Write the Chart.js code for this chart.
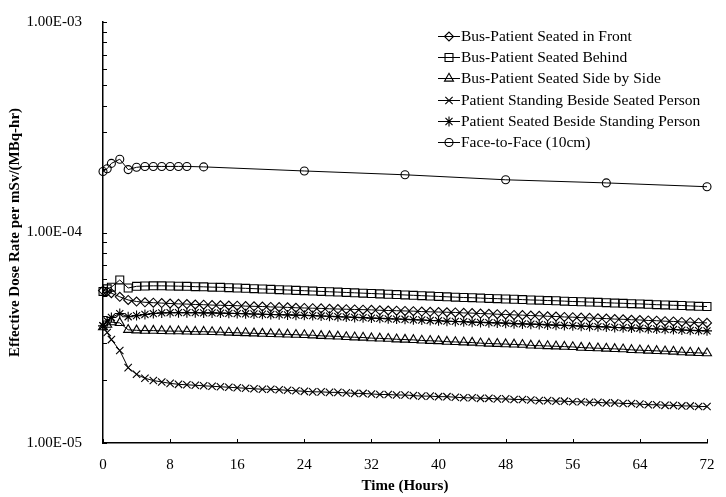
<!DOCTYPE html>
<html>
<head>
<meta charset="utf-8">
<script src="https://cdn.jsdelivr.net/npm/chart.js@4.4.1/dist/chart.umd.min.js"></script>
<style>
html,body{margin:0;padding:0;background:#fff;}
#wrap{position:relative;width:726px;height:497px;}
#legend{position:absolute;left:438px;top:25px;font-family:"Liberation Serif","Times New Roman",serif;font-size:15.5px;color:#000;}
.row{display:flex;align-items:center;height:21.3px;white-space:nowrap;}
.row canvas{display:block;margin-right:1px;}
</style>
</head>
<body>
<div id="wrap"><canvas id="c" width="726" height="497"></canvas><div id="legend"></div></div>
<script>
// ---- data ----
const seriesNames = [
  'Bus-Patient Seated in Front',
  'Bus-Patient Seated Behind',
  'Bus-Patient Seated Side by Side',
  'Patient Standing Beside Seated Person',
  'Patient Seated Beside Standing Person',
  'Face-to-Face (10cm)'
];
const hours = [0,0.5,1,2,3,4,5,6,7,8,
  9,10,11,12,13,14,15,16,
  17,18,19,20,21,22,23,24,
  25,26,27,28,29,30,31,32,
  33,34,35,36,37,38,39,40,
  41,42,43,44,45,46,47,48,
  49,50,51,52,53,54,55,56,
  57,58,59,60,61,62,63,64,
  65,66,67,68,69,70,71,72];
const frontValues = [5.30e-5,5.25e-5,5.15e-5,4.95e-5,4.78e-5,4.70e-5,4.66e-5,4.64e-5,4.62e-5,4.60e-5,
  4.58e-5,4.57e-5,4.55e-5,4.54e-5,4.52e-5,4.51e-5,4.50e-5,4.49e-5,
  4.47e-5,4.46e-5,4.45e-5,4.43e-5,4.42e-5,4.41e-5,4.39e-5,4.38e-5,
  4.37e-5,4.36e-5,4.34e-5,4.33e-5,4.32e-5,4.31e-5,4.30e-5,4.29e-5,
  4.27e-5,4.26e-5,4.25e-5,4.24e-5,4.23e-5,4.21e-5,4.20e-5,4.19e-5,
  4.18e-5,4.17e-5,4.15e-5,4.14e-5,4.12e-5,4.11e-5,4.09e-5,4.08e-5,
  4.06e-5,4.05e-5,4.03e-5,4.02e-5,4.00e-5,3.99e-5,3.97e-5,3.96e-5,
  3.94e-5,3.93e-5,3.91e-5,3.90e-5,3.88e-5,3.87e-5,3.85e-5,3.84e-5,
  3.82e-5,3.81e-5,3.79e-5,3.78e-5,3.76e-5,3.75e-5,3.73e-5,3.72e-5];
const behindValues = [5.25e-5,5.40e-5,5.50e-5,5.95e-5,5.45e-5,5.55e-5,5.57e-5,5.58e-5,5.58e-5,5.57e-5,
  5.56e-5,5.55e-5,5.53e-5,5.52e-5,5.50e-5,5.49e-5,5.47e-5,5.45e-5,
  5.43e-5,5.41e-5,5.39e-5,5.37e-5,5.35e-5,5.33e-5,5.31e-5,5.29e-5,
  5.27e-5,5.25e-5,5.23e-5,5.21e-5,5.19e-5,5.17e-5,5.15e-5,5.13e-5,
  5.11e-5,5.09e-5,5.07e-5,5.05e-5,5.03e-5,5.01e-5,4.99e-5,4.97e-5,
  4.95e-5,4.93e-5,4.91e-5,4.90e-5,4.88e-5,4.86e-5,4.85e-5,4.83e-5,
  4.82e-5,4.80e-5,4.78e-5,4.77e-5,4.75e-5,4.74e-5,4.72e-5,4.70e-5,
  4.69e-5,4.67e-5,4.66e-5,4.64e-5,4.62e-5,4.61e-5,4.59e-5,4.58e-5,
  4.56e-5,4.54e-5,4.53e-5,4.51e-5,4.50e-5,4.48e-5,4.46e-5,4.45e-5];
const sideValues = [3.55e-5,3.65e-5,3.75e-5,3.72e-5,3.45e-5,3.43e-5,3.42e-5,3.42e-5,3.41e-5,3.40e-5,
  3.40e-5,3.39e-5,3.38e-5,3.38e-5,3.37e-5,3.36e-5,3.35e-5,3.34e-5,
  3.33e-5,3.32e-5,3.31e-5,3.30e-5,3.29e-5,3.28e-5,3.27e-5,3.26e-5,
  3.25e-5,3.23e-5,3.22e-5,3.21e-5,3.19e-5,3.18e-5,3.17e-5,3.15e-5,
  3.14e-5,3.13e-5,3.11e-5,3.10e-5,3.09e-5,3.07e-5,3.06e-5,3.05e-5,
  3.03e-5,3.02e-5,3.01e-5,3.00e-5,2.98e-5,2.97e-5,2.96e-5,2.95e-5,
  2.94e-5,2.93e-5,2.91e-5,2.90e-5,2.89e-5,2.88e-5,2.87e-5,2.86e-5,
  2.84e-5,2.83e-5,2.82e-5,2.81e-5,2.80e-5,2.79e-5,2.77e-5,2.76e-5,
  2.75e-5,2.74e-5,2.73e-5,2.72e-5,2.70e-5,2.69e-5,2.68e-5,2.67e-5];
const standingValues = [3.60e-5,3.35e-5,3.10e-5,2.75e-5,2.28e-5,2.12e-5,2.03e-5,1.98e-5,1.95e-5,1.92e-5,
  1.90e-5,1.89e-5,1.88e-5,1.87e-5,1.86e-5,1.85e-5,1.84e-5,1.83e-5,
  1.82e-5,1.81e-5,1.80e-5,1.80e-5,1.79e-5,1.78e-5,1.77e-5,1.76e-5,
  1.75e-5,1.75e-5,1.74e-5,1.74e-5,1.73e-5,1.72e-5,1.72e-5,1.71e-5,
  1.70e-5,1.70e-5,1.69e-5,1.69e-5,1.68e-5,1.67e-5,1.67e-5,1.66e-5,
  1.66e-5,1.65e-5,1.64e-5,1.64e-5,1.63e-5,1.63e-5,1.62e-5,1.62e-5,
  1.61e-5,1.61e-5,1.60e-5,1.59e-5,1.59e-5,1.58e-5,1.58e-5,1.57e-5,
  1.57e-5,1.56e-5,1.56e-5,1.55e-5,1.55e-5,1.54e-5,1.54e-5,1.53e-5,
  1.52e-5,1.52e-5,1.51e-5,1.51e-5,1.50e-5,1.50e-5,1.49e-5,1.49e-5];
const seatedValues = [3.60e-5,3.80e-5,3.95e-5,4.12e-5,3.98e-5,4.03e-5,4.08e-5,4.12e-5,4.15e-5,4.16e-5,
  4.16e-5,4.16e-5,4.16e-5,4.15e-5,4.15e-5,4.14e-5,4.13e-5,4.12e-5,
  4.11e-5,4.10e-5,4.09e-5,4.08e-5,4.07e-5,4.06e-5,4.05e-5,4.04e-5,
  4.03e-5,4.01e-5,4.00e-5,3.98e-5,3.97e-5,3.95e-5,3.94e-5,3.92e-5,
  3.91e-5,3.89e-5,3.88e-5,3.87e-5,3.85e-5,3.84e-5,3.82e-5,3.81e-5,
  3.79e-5,3.78e-5,3.77e-5,3.75e-5,3.74e-5,3.73e-5,3.72e-5,3.71e-5,
  3.69e-5,3.68e-5,3.67e-5,3.66e-5,3.64e-5,3.63e-5,3.62e-5,3.61e-5,
  3.59e-5,3.58e-5,3.57e-5,3.56e-5,3.54e-5,3.53e-5,3.52e-5,3.51e-5,
  3.49e-5,3.48e-5,3.47e-5,3.46e-5,3.44e-5,3.43e-5,3.42e-5,3.41e-5];
const faceHours = [0,0.5,1,2,3,4,5,6,7,8,9,10,12,24,36,48,60,72];
const faceValues = [1.95e-4,2.01e-4,2.13e-4,2.23e-4,1.99e-4,2.04e-4,2.06e-4,2.06e-4,2.06e-4,2.06e-4,2.06e-4,2.06e-4,2.05e-4,1.96e-4,1.88e-4,1.78e-4,1.72e-4,1.65e-4];

const xTickValues = [0,8,16,24,32,40,48,56,64,72];
const yMajorValues = [1e-5,1e-4,1e-3];
const yTickLabels = ['1.00E-05','1.00E-04','1.00E-03'];
const yMinorValues = [2e-5,3e-5,4e-5,5e-5,6e-5,7e-5,8e-5,9e-5,2e-4,3e-4,4e-4,5e-4,6e-4,7e-4,8e-4,9e-4];
const xTitle = 'Time (Hours)';
const yTitle = 'Effective Dose Rate per mSv/(MBq-hr)';

// ---- build ----
const serif = '"Liberation Serif","Times New Roman",serif';
function pts(xs, ys){ return xs.map((x,i)=>({x:x, y:ys[i]})); }
const styles = [
  {pointStyle:'rectRot', pointRadius:4.5},
  {pointStyle:'rect', pointRadius:5.6},
  {pointStyle:'triangle', pointRadius:5.2},
  {pointStyle:'crossRot', pointRadius:5.2},
  {pointStyle:'star', pointRadius:5},
  {pointStyle:'circle', pointRadius:4}
];
const dataSets = [
  pts(hours, frontValues), pts(hours, behindValues), pts(hours, sideValues),
  pts(hours, standingValues), pts(hours, seatedValues), pts(faceHours, faceValues)
];
const datasets = dataSets.map((d,i)=>Object.assign({
  label: seriesNames[i],
  data: d,
  borderColor:'#000', borderWidth:1,
  pointBorderColor:'#000', pointBackgroundColor:'rgba(0,0,0,0)',
  pointBorderWidth:1.1, pointHoverRadius:0,
  fill:false, tension:0, clip:false
}, styles[i]));

const inwardTicks = {
  id:'inwardTicks',
  afterDraw(chart){
    const {ctx, chartArea:a, scales:{x, y}} = chart;
    ctx.save();
    ctx.strokeStyle = '#000'; ctx.lineWidth = 1;
    ctx.beginPath();
    x.ticks.forEach(t=>{ const px = Math.round(x.getPixelForValue(t.value)) + 0.5; ctx.moveTo(px, a.bottom); ctx.lineTo(px, a.bottom - 4); });
    y.ticks.forEach(t=>{ const py = Math.round(y.getPixelForValue(t.value)) + 0.5; ctx.moveTo(a.left, py); ctx.lineTo(a.left + 4, py); });
    ctx.stroke();
    ctx.restore();
  }
};

const chart = new Chart(document.getElementById('c'), {
  type:'line',
  data:{ datasets: datasets },
  options:{
    responsive:false, animation:false, events:[],
    layout:{ padding:{ top:20, right:19, left:0, bottom:0 } },
    scales:{
      x:{
        type:'linear', min:0, max:72,
        afterBuildTicks: s => { s.ticks = xTickValues.map(v=>({value:v})); },
        ticks:{ font:{family:serif, size:15}, color:'#000', padding:5, maxRotation:0, autoSkip:false },
        grid:{ display:false },
        border:{ display:true, color:'#000', width:1.5 },
        title:{ display:true, text:xTitle, font:{family:serif, size:15, weight:'bold'}, color:'#000', padding:{top:0, bottom:2} },
        afterFit: s => { s.height = 54; }
      },
      y:{
        type:'logarithmic', min:1e-5, max:1e-3,
        afterBuildTicks: s => { s.ticks = yMajorValues.concat(yMinorValues).sort((a,b)=>a-b).map(v=>({value:v})); },
        ticks:{
          font:{family:serif, size:15}, color:'#000', padding:13, autoSkip:false,
          callback: v => { const i = yMajorValues.findIndex(m => Math.abs(m - v) / m < 1e-6); return i >= 0 ? yTickLabels[i] : ''; }
        },
        grid:{ display:false },
        border:{ display:true, color:'#000', width:1.5 },
        title:{ display:true, text:yTitle, font:{family:serif, size:15, weight:'bold'}, color:'#000', padding:{top:6, bottom:0} },
        afterFit: s => { s.width = 103; }
      }
    },
    plugins:{ legend:{ display:false }, tooltip:{ enabled:false } }
  },
  plugins:[inwardTicks]
});

// ---- HTML legend ----
const legendEl = document.getElementById('legend');
datasets.forEach(ds=>{
  const row = document.createElement('div'); row.className = 'row';
  const cv = document.createElement('canvas'); cv.width = 22; cv.height = 16;
  const c2 = cv.getContext('2d');
  c2.strokeStyle = '#000'; c2.fillStyle = 'rgba(0,0,0,0)'; c2.lineWidth = 1;
  c2.beginPath(); c2.moveTo(0, 8.5); c2.lineTo(22, 8.5); c2.stroke();
  if (Chart.helpers && Chart.helpers.drawPoint) {
    c2.lineWidth = 1.1;
    Chart.helpers.drawPoint(c2, {pointStyle: ds.pointStyle, radius: ds.pointRadius, rotation: 0, borderWidth: 1.1}, 11, 8.5);
  }
  const sp = document.createElement('span'); sp.textContent = ds.label;
  row.appendChild(cv); row.appendChild(sp);
  legendEl.appendChild(row);
});
</script>
</body>
</html>
